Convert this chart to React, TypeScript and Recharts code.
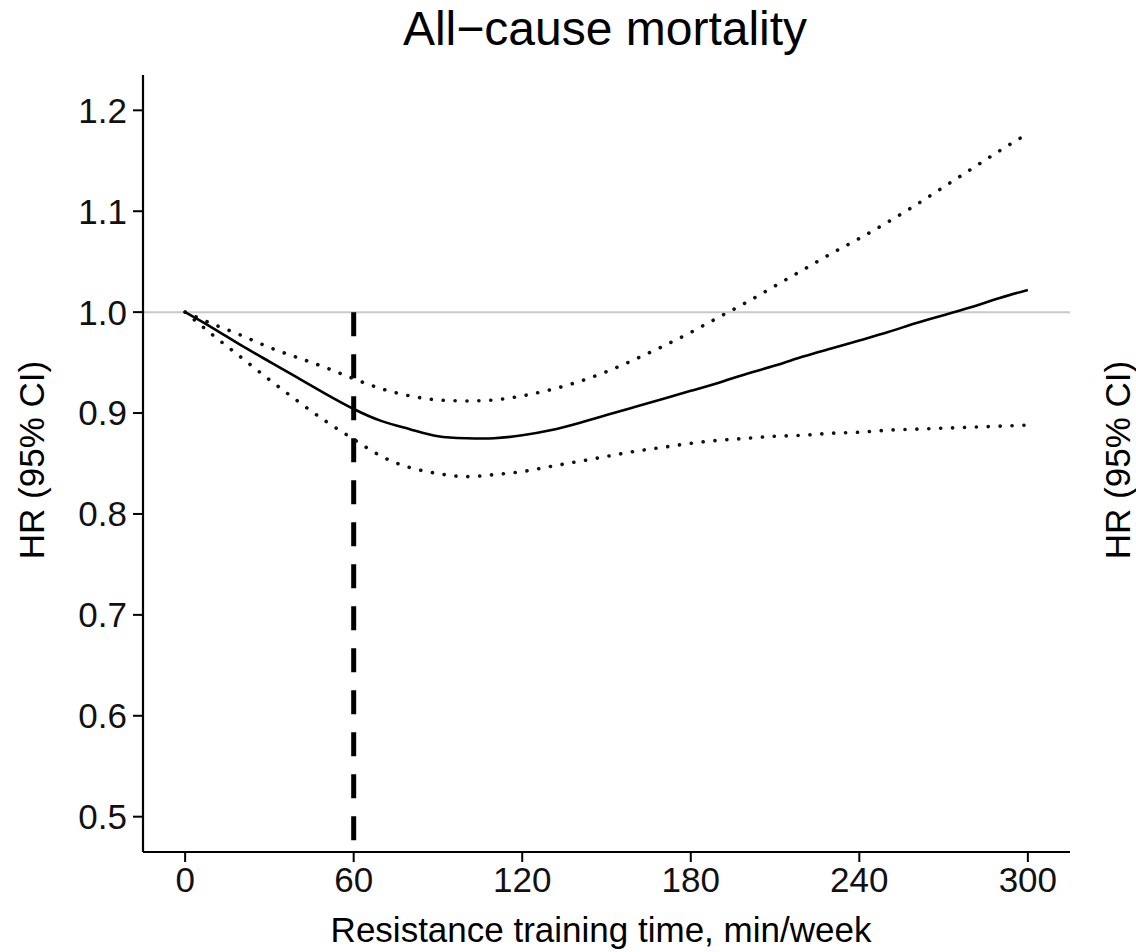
import React from 'react';
import { LineChart, Line, XAxis, YAxis, ReferenceLine, Customized } from 'recharts';

// Spline, every 10 min/week
const minutes = [0, 10, 20, 30, 40, 50, 60, 70, 80, 90, 100, 110, 120, 130, 140, 150, 160, 170, 180, 190, 200, 210, 220, 230, 240, 250, 260, 270, 280, 290, 300];
const hr = [1.0, 0.984, 0.967, 0.951, 0.935, 0.919, 0.904, 0.892, 0.884, 0.877, 0.875, 0.875, 0.878, 0.883, 0.89, 0.898, 0.906, 0.914, 0.922, 0.93, 0.939, 0.947, 0.956, 0.964, 0.972, 0.98, 0.989, 0.997, 1.005, 1.014, 1.022];
const lower = [1.0, 0.977, 0.955, 0.933, 0.912, 0.892, 0.874, 0.857, 0.846, 0.84, 0.837, 0.839, 0.842, 0.847, 0.852, 0.857, 0.862, 0.866, 0.87, 0.873, 0.875, 0.877, 0.878, 0.88, 0.881, 0.883, 0.884, 0.885, 0.886, 0.887, 0.888];
const upper = [1.0, 0.988, 0.977, 0.965, 0.955, 0.945, 0.934, 0.924, 0.917, 0.913, 0.912, 0.913, 0.917, 0.923, 0.931, 0.941, 0.953, 0.966, 0.98, 0.995, 1.01, 1.026, 1.042, 1.058, 1.073, 1.089, 1.106, 1.124, 1.142, 1.16, 1.177];

const xTicks = [0, 60, 120, 180, 240, 300];
const yTicks = [0.5, 0.6, 0.7, 0.8, 0.9, 1.0, 1.1, 1.2];
const cutoff = 60;

const title = 'All\u2212cause mortality';
const xTitle = 'Resistance training time, min/week';
const yTitle = 'HR (95% CI)';

const data = minutes.map((m, i) => ({ m, hr: hr[i], lo: lower[i], hi: upper[i] }));

const FONT = '"Liberation Sans", Arial, Helvetica, sans-serif';

function Titles() {
  return (
    <g fontFamily={FONT} fill="#000">
      <text x={605} y={45} fontSize={48} textAnchor="middle">{title}</text>
      <text x={601} y={942} fontSize={35} textAnchor="middle">{xTitle}</text>
      <text x={31} y={460} fontSize={35} textAnchor="middle" dominantBaseline="central" transform="rotate(-90 31 460)">{yTitle}</text>
      <text x={1117} y={460} fontSize={35} textAnchor="middle" dominantBaseline="central" transform="rotate(-90 1117 460)">{yTitle}</text>
    </g>
  );
}

export default function App() {
  const tickStyle = { fontSize: 35, fontFamily: FONT, fill: '#111' };
  return (
    <div style={{ position: 'absolute', left: 0, top: 0, background: '#fff' }}>
      <LineChart width={1136} height={952} data={data} margin={{ top: 75, right: 66, bottom: 60, left: 83 }}>
        <XAxis
          dataKey="m"
          type="number"
          domain={[-15, 315]}
          ticks={xTicks}
          height={40}
          tickSize={10}
          tickMargin={5}
          axisLine={{ stroke: '#000', strokeWidth: 2.2 }}
          tickLine={{ stroke: '#000', strokeWidth: 2 }}
          tick={tickStyle}
          interval={0}
        />
        <YAxis
          type="number"
          domain={[0.465, 1.235]}
          ticks={yTicks}
          width={60}
          tickSize={10}
          tickMargin={6}
          tickFormatter={(v: number) => v.toFixed(1)}
          axisLine={{ stroke: '#000', strokeWidth: 2.2 }}
          tickLine={{ stroke: '#000', strokeWidth: 2 }}
          tick={tickStyle}
          interval={0}
        />
        <ReferenceLine y={1} stroke="#c8c8c8" strokeWidth={2} />
        <ReferenceLine
          segment={[{ x: cutoff, y: 1 }, { x: cutoff, y: 0.465 }]}
          stroke="#000"
          strokeWidth={5}
          strokeDasharray="24 18"
        />
        <Line dataKey="hi" type="natural" stroke="#111" strokeWidth={3.6} strokeDasharray="0.1 11.8" strokeLinecap="round" dot={false} isAnimationActive={false} />
        <Line dataKey="lo" type="natural" stroke="#111" strokeWidth={3.6} strokeDasharray="0.1 11.8" strokeLinecap="round" dot={false} isAnimationActive={false} />
        <Line dataKey="hr" type="natural" stroke="#000" strokeWidth={2.6} dot={false} isAnimationActive={false} />
        <Customized component={Titles} />
      </LineChart>
    </div>
  );
}
